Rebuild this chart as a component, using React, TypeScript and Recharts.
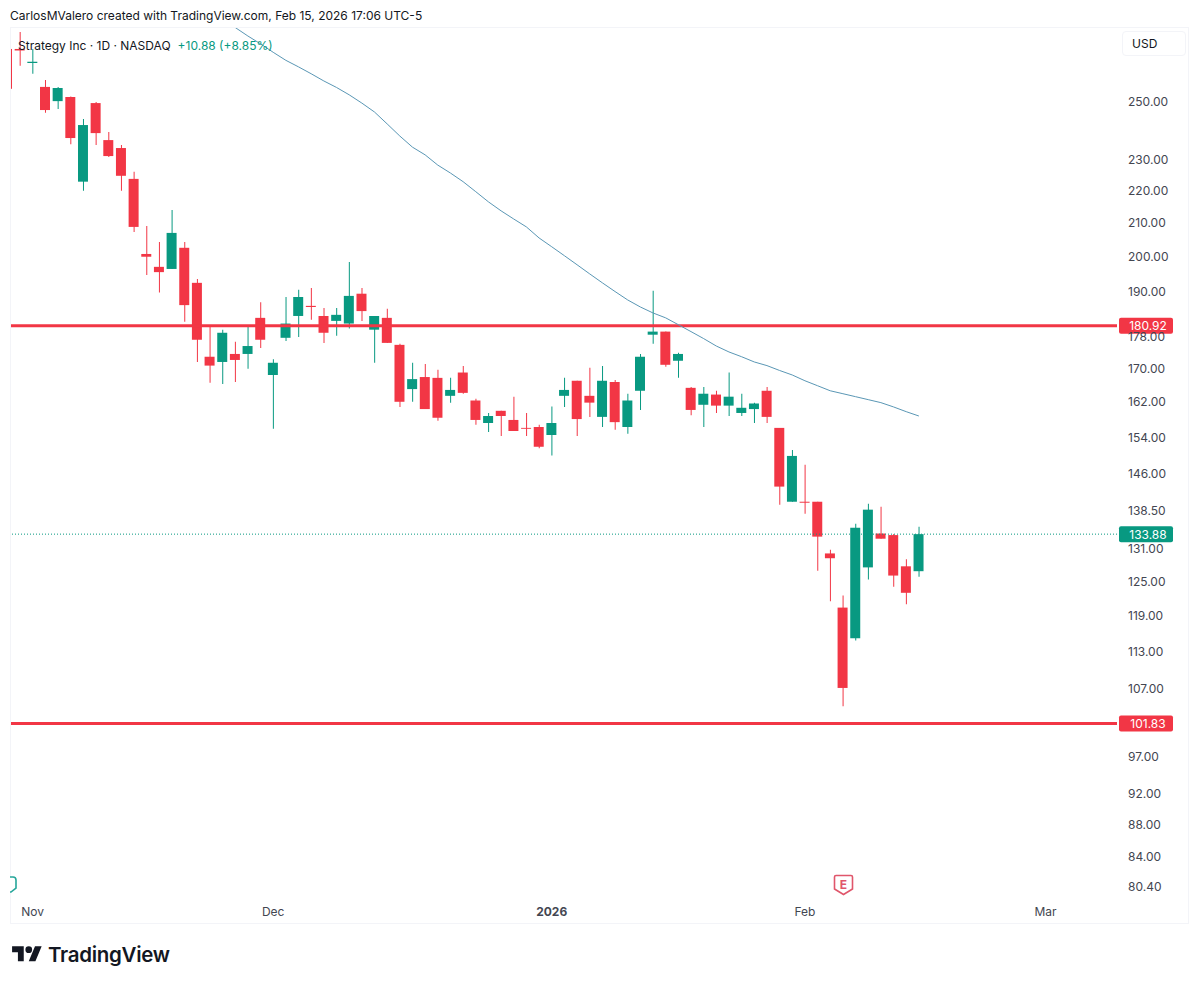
import React from "react";
import {
  Bar,
  Cell,
  ComposedChart,
  Line,
  ReferenceLine,
  XAxis,
  YAxis,
} from "recharts";

const FONT = "Inter, 'Noto Sans', sans-serif";
const UP = "#089981";
const DOWN = "#f23645";
const TEXT = "#434651";

// trading days from Oct 30 2025 (clipped on the left edge) to Feb 13 2026
const opens = [
  269.9, 269.9, 264.5, 255.5, 250.3, 251.8, 222.8, 249.6, 236.6, 233.9, 223.7, 200.7, 197.0, 196.4, 202.5, 192.5,
  173.0, 171.7, 173.7, 173.7, 183.0, 168.5, 177.8, 183.5, 186.2, 183.5, 182.2, 181.5, 189.5, 179.9, 183.0, 176.0,
  165.1, 168.0, 167.8, 163.5, 169.1, 162.4, 157.2, 160.0, 157.9, 156.1, 156.3, 154.5, 163.5, 167.1, 163.5, 158.6,
  166.8, 156.3, 164.7, 178.6, 179.4, 172.0, 165.4, 161.4, 163.8, 161.2, 159.5, 160.4, 164.7, 156.1, 140.3, 140.3,
  140.3, 130.2, 120.4, 115.2, 127.6, 134.0, 133.7, 127.8, 126.9,
];
const closes = [
  254.8, 269.3, 265.0, 247.1, 255.1, 237.3, 241.8, 239.0, 231.2, 224.7, 208.7, 199.9, 195.5, 206.9, 186.4, 177.3,
  170.8, 179.1, 172.2, 175.7, 177.3, 171.5, 181.5, 188.6, 185.9, 179.1, 183.8, 188.9, 184.8, 183.5, 176.5, 162.1,
  167.5, 160.4, 158.4, 164.9, 164.2, 157.9, 158.8, 158.8, 155.4, 155.9, 151.9, 157.2, 164.9, 158.1, 161.9, 167.1,
  157.4, 162.4, 173.0, 179.4, 171.0, 173.7, 160.2, 164.0, 161.2, 163.3, 160.7, 161.7, 158.6, 143.4, 149.9, 140.1,
  133.4, 129.3, 107.2, 135.1, 138.7, 133.0, 126.1, 123.0, 133.88,
];
const highs = [
  269.9, 276.6, 269.9, 258.1, 255.5, 252.0, 243.9, 250.0, 239.4, 234.9, 226.0, 209.0, 204.2, 213.9, 204.2, 193.6,
  180.9, 179.9, 176.8, 180.7, 187.2, 172.4, 188.6, 190.6, 191.1, 185.6, 185.6, 198.4, 191.1, 183.5, 185.4, 176.3,
  171.5, 171.2, 169.8, 167.8, 170.7, 162.8, 159.5, 160.0, 163.3, 159.5, 156.8, 161.0, 167.8, 167.1, 170.3, 170.7,
  167.3, 164.0, 173.7, 190.3, 179.4, 174.0, 165.6, 165.6, 164.7, 169.1, 164.0, 161.9, 165.6, 156.1, 151.2, 148.0,
  140.3, 130.9, 122.5, 135.9, 139.9, 139.3, 133.9, 129.1, 135.3,
];
const lows = [
  254.8, 263.4, 260.4, 246.1, 247.5, 235.2, 219.9, 234.9, 230.9, 219.9, 207.2, 194.7, 189.8, 196.4, 182.0, 171.7,
  166.6, 166.3, 166.8, 170.0, 175.2, 155.9, 177.0, 178.0, 182.5, 176.5, 178.3, 180.2, 182.2, 171.5, 176.5, 160.9,
  162.1, 160.4, 157.7, 161.9, 164.0, 156.8, 155.2, 154.3, 155.4, 154.3, 151.6, 150.0, 160.9, 154.3, 158.6, 156.3,
  155.7, 154.8, 160.2, 176.3, 170.5, 167.8, 159.0, 156.3, 159.5, 158.8, 158.8, 157.2, 157.2, 139.7, 140.3, 137.9,
  127.0, 121.5, 104.4, 114.8, 125.4, 133.0, 124.1, 121.0, 125.9,
];
// moving average, starts at index 16 (above the visible area there)
const maValues = [
  281.4, 278.4, 275.0, 271.9, 268.6, 265.5, 263.0, 260.4, 257.7, 255.3, 252.6, 249.6, 246.4, 242.2,
  238.0, 234.2, 231.6, 228.2, 225.6, 222.8, 219.6, 216.4, 213.6, 211.1, 208.7, 205.4, 202.8, 200.2,
  197.6, 195.0, 192.5, 190.1, 187.8, 185.9, 184.3, 183.0, 181.2, 179.4, 177.6, 175.7, 174.2, 173.0,
  171.7, 170.8, 169.6, 168.5, 167.1, 165.9, 164.7, 164.0, 163.3, 162.6, 161.9, 160.9, 159.8, 158.8,
];
const maStart = 16;

const priceTicks = [
  250, 230, 220, 210, 200, 190, 178, 170, 162, 154, 146, 138.5, 131, 125, 119, 113, 107, 97, 92, 88, 84, 80.4,
];
const timeTicks = [1, 20, 42, 62, 81];
const timeLabels = ["Nov", "Dec", "2026", "Feb", "Mar"];

const resistance = 180.92;
const support = 101.83;
const lastPrice = 133.88;

const X_DOMAIN: [number, number] = [-0.79, 86.65];
const Y_DOMAIN: [number, number] = [79.25, 278.2];

const rows = opens.map((open, i) => {
  const index = i - 1;
  return {
    index,
    up: closes[i] >= open,
    body: [Math.min(open, closes[i]), Math.max(open, closes[i])],
    wick: [lows[i], highs[i]],
    ma: index >= maStart ? maValues[index - maStart] : null,
  };
});

function TimeTick({ x, y, payload }: any) {
  const label = timeLabels[timeTicks.indexOf(payload.value)];
  return (
    <text
      x={x}
      y={y + 11}
      textAnchor="middle"
      fontFamily={FONT}
      fontSize={12}
      fontWeight={label === "2026" ? 700 : 400}
      fill={TEXT}
    >
      {label}
    </text>
  );
}

function PriceBox({ viewBox, value, color }: any) {
  const x = viewBox.x + viewBox.width + 2;
  return (
    <g>
      <rect x={x} y={viewBox.y - 8} width={54} height={16} rx={2} fill={color} />
      <text x={x + 29} y={viewBox.y + 4.5} textAnchor="middle" fontFamily={FONT} fontSize={12} fill="#fff">
        {value.toFixed(2)}
      </text>
    </g>
  );
}

function Overlay() {
  return (
    <>
      <div style={{ position: "absolute", left: 10, top: 8, fontSize: 12, color: "#131722", whiteSpace: "nowrap" }}>
        CarlosMValero created with TradingView.com, Feb 15, 2026 17:06 UTC-5
      </div>
      <div style={{ position: "absolute", left: 10, top: 27, width: 1179, height: 897, boxSizing: "border-box", border: "1px solid #f3f4f8", pointerEvents: "none" }} />
      <div style={{ position: "absolute", left: 18, top: 38, fontSize: 12, color: "#131722", whiteSpace: "nowrap" }}>
        Strategy Inc · 1D · NASDAQ
        <span style={{ color: UP, marginLeft: 7 }}>+10.88 (+8.85%)</span>
      </div>
      <div style={{ position: "absolute", left: 1122, top: 31, width: 64, height: 25, boxSizing: "border-box", border: "1px solid #f3f4f8", borderRadius: 4, fontSize: 12, color: "#131722", lineHeight: "24px", paddingLeft: 9 }}>
        USD
      </div>
      <svg style={{ position: "absolute", left: 10, top: 874 }} width={9} height={22}>
        <path d="M-6 3 H3 Q6 3 6 6 V14 L1 18 H-6" fill="#fff" stroke="#26a69a" strokeWidth={1.6} />
      </svg>
      <svg style={{ position: "absolute", left: 832, top: 873 }} width={24} height={24}>
        <path d="M2.5 4 Q2.5 2.5 4 2.5 H19 Q20.5 2.5 20.5 4 V16 L11.5 21.5 L2.5 16 Z" fill="#fff" stroke="#e0566b" strokeWidth={1.6} />
        <text x={11.5} y={15.5} textAnchor="middle" fontFamily={FONT} fontSize={12} fontWeight={700} fill="#e0566b">E</text>
      </svg>
      <svg style={{ position: "absolute", left: 12, top: 943 }} width={31} height={20} viewBox="0 0 37 24">
        <path d="M14 22H7V11H0V4h14v18zM28 22h-8l7.5-18h8L28 22z" fill="#131722" />
        <circle cx={20} cy={8} r={4} fill="#131722" />
      </svg>
      <div style={{ position: "absolute", left: 48, top: 942, fontSize: 20.5, fontWeight: 600, color: "#131722", letterSpacing: "-0.3px", whiteSpace: "nowrap" }}>
        TradingView
      </div>
    </>
  );
}

export default function App() {
  return (
    <div style={{ position: "absolute", left: 0, top: 0, width: 1200, height: 984, background: "#fff", fontFamily: FONT }}>
      <ComposedChart
        width={1200}
        height={984}
        data={rows}
        margin={{ top: 28, right: 11, bottom: 0, left: 10 }}
      >
        <XAxis
          xAxisId="main"
          dataKey="index"
          type="number"
          domain={X_DOMAIN}
          allowDataOverflow
          ticks={timeTicks}
          tick={<TimeTick />}
          axisLine={false}
          tickLine={false}
          height={87}
          interval={0}
        />
        <XAxis xAxisId="wick" dataKey="index" type="number" domain={X_DOMAIN} allowDataOverflow hide />
        <YAxis
          orientation="right"
          scale="log"
          domain={Y_DOMAIN}
          allowDataOverflow
          ticks={priceTicks}
          tickFormatter={(v: number) => v.toFixed(2)}
          tick={{ fontSize: 12, fill: TEXT, fontFamily: FONT }}
          tickMargin={5}
          axisLine={false}
          tickLine={false}
          width={72}
          interval={0}
        />
        <ReferenceLine
          xAxisId="main"
          y={lastPrice}
          stroke={UP}
          strokeDasharray="1 2"
          label={<PriceBox value={lastPrice} color={UP} />}
        />
        <ReferenceLine
          xAxisId="main"
          y={resistance}
          stroke={DOWN}
          strokeWidth={3}
          label={<PriceBox value={resistance} color={DOWN} />}
        />
        <ReferenceLine
          xAxisId="main"
          y={support}
          stroke={DOWN}
          strokeWidth={3}
          label={<PriceBox value={support} color={DOWN} />}
        />
        <Line
          xAxisId="main"
          dataKey="ma"
          stroke="#5a97b5"
          strokeWidth={1}
          dot={false}
          activeDot={false}
          isAnimationActive={false}
        />
        <Bar xAxisId="wick" dataKey="wick" barSize={1} isAnimationActive={false}>
          {rows.map((r) => (
            <Cell key={r.index} fill={r.up ? UP : DOWN} />
          ))}
        </Bar>
        <Bar xAxisId="main" dataKey="body" barSize={10} isAnimationActive={false}>
          {rows.map((r) => (
            <Cell key={r.index} fill={r.up ? UP : DOWN} />
          ))}
        </Bar>
      </ComposedChart>
      <Overlay />
    </div>
  );
}
